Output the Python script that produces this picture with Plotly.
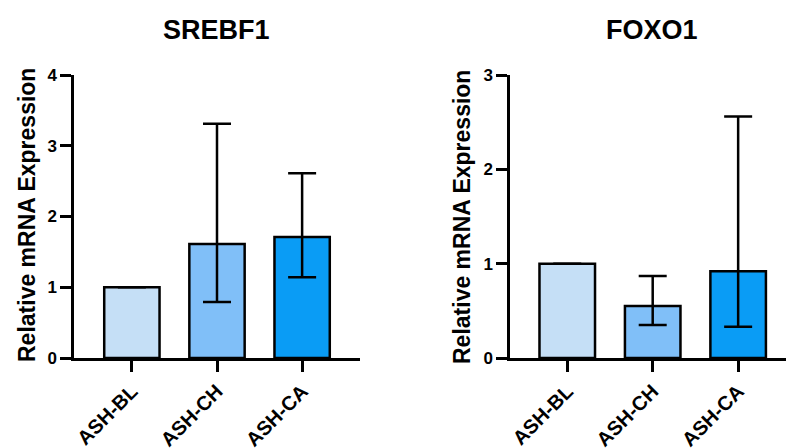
import plotly.graph_objects as go

categories = ["ASH-BL", "ASH-CH", "ASH-CA"]
srebf1_mean = [1.0, 1.61, 1.71]
srebf1_upper = [1.0, 3.31, 2.61]
srebf1_lower = [1.0, 0.79, 1.14]
foxo1_mean = [1.0, 0.55, 0.92]
foxo1_upper = [1.0, 0.87, 2.56]
foxo1_lower = [1.0, 0.35, 0.33]
bar_colors = ["#C5DFF6", "#80BFF8", "#0A9CF5"]
titles = ["SREBF1", "FOXO1"]
y_title = "Relative mRNA Expression"

FONT = "Liberation Sans, Arial, sans-serif"

fig = go.Figure()

def add_panel(mean, upper, lower, xa, ya):
    plus = [u - m for u, m in zip(upper, mean)]
    minus = [m - l for m, l in zip(mean, lower)]
    fig.add_trace(go.Bar(
        x=categories, y=mean, xaxis=xa, yaxis=ya,
        marker=dict(color=bar_colors, line=dict(color="black", width=2.5)),
        width=0.65,
        error_y=dict(type="data", symmetric=False,
                     array=[p if p > 0 else None for p in plus],
                     arrayminus=[q if q > 0 else None for q in minus],
                     color="black", thickness=2.5, width=14),
        showlegend=False,
    ))

add_panel(srebf1_mean, srebf1_upper, srebf1_lower, "x", "y")
add_panel(foxo1_mean, foxo1_upper, foxo1_lower, "x2", "y2")

W, H = 786, 448
ydom = [(H - 358) / H, (H - 75) / H]
yfont = dict(family=FONT, size=17, color="black", weight="bold")
xfont = dict(family=FONT, size=20, color="black", weight="bold")
axis_common = dict(showline=True, linecolor="black", linewidth=2.5, ticks="outside",
                   ticklen=11, tickwidth=2.5, tickcolor="black", showgrid=False,
                   zeroline=False, automargin=False)

fig.update_layout(
    width=W, height=H, margin=dict(l=0, r=0, t=0, b=0, autoexpand=False),
    paper_bgcolor="white", plot_bgcolor="white",
    font=dict(family=FONT, color="black"),
    xaxis=dict(domain=[74 / W, 360 / W], range=[-0.68, 2.68], anchor="y",
               tickangle=-45, tickfont=xfont, **axis_common),
    yaxis=dict(domain=ydom, range=[0, 4], anchor="x", tickvals=[0, 1, 2, 3, 4],
               tickfont=yfont, **axis_common),
    xaxis2=dict(domain=[510 / W, 1.0], range=[-0.67, 2.56], anchor="y2",
                tickangle=-45, tickfont=xfont, **axis_common),
    yaxis2=dict(domain=ydom, range=[0, 3], anchor="x2", tickvals=[0, 1, 2, 3],
                tickfont=yfont, **axis_common),
)

def ann(text, x, y, size, angle=0):
    return dict(text=f"<b>{text}</b>", x=x / W, y=(H - y) / H, xref="paper", yref="paper",
                xanchor="center", yanchor="middle", showarrow=False, textangle=angle,
                font=dict(size=size, family=FONT, color="black"))

fig.update_layout(annotations=[
    ann(titles[0], 216, 30, 27),
    ann(titles[1], 652, 30, 27),
    ann(y_title, 27, 215, 23, -90),
    ann(y_title, 462, 217, 23, -90),
])

fig.write_html("out.html", config={"displayModeBar": False},
               post_script="document.body.style.margin='0';document.body.style.overflow='hidden';")
